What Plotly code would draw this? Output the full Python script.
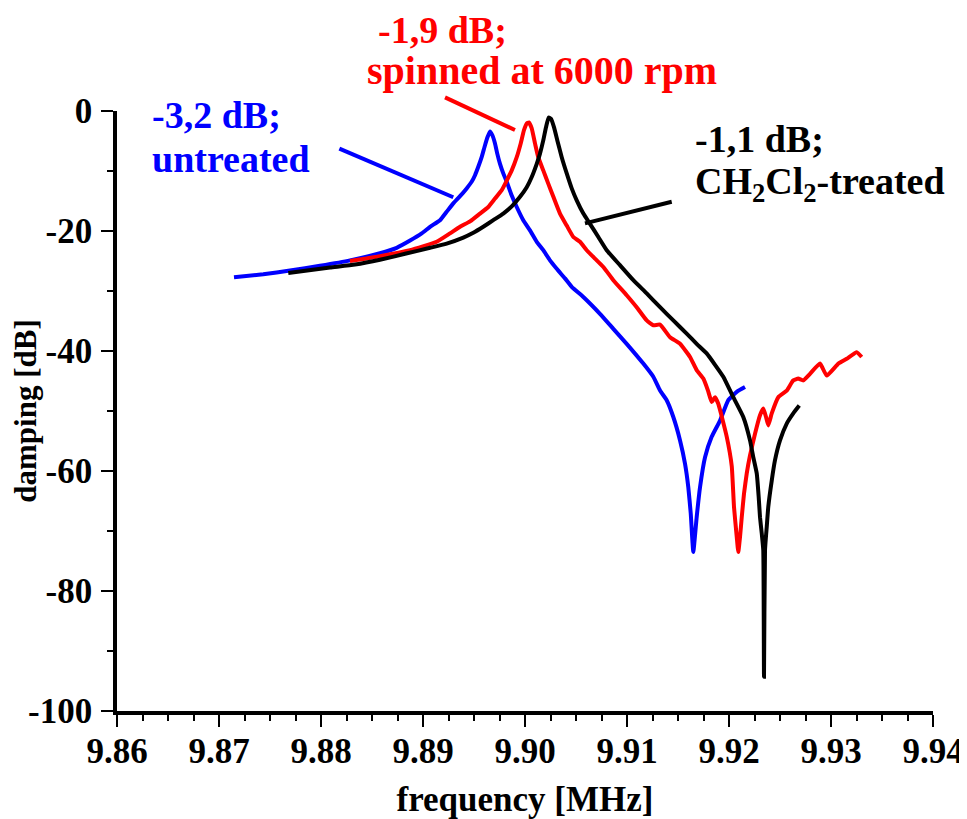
import plotly.graph_objects as go

# ---- data ----
blue_x = [9.87147, 9.87434, 9.87696, 9.87990, 9.88284, 9.88578, 9.88742, 9.88873, 9.88987, 9.89069,
          9.89167, 9.89232, 9.89297, 9.89363, 9.89428, 9.89477, 9.89510, 9.89542, 9.89575, 9.89608,
          9.89634, 9.89657, 9.89679, 9.89706, 9.89728, 9.89755, 9.89787, 9.89821, 9.89870, 9.89919,
          9.89983, 9.90049, 9.90115, 9.90179, 9.90245, 9.90311, 9.90392, 9.90458, 9.90572, 9.90735,
          9.90866, 9.90997, 9.91160, 9.91258, 9.91324, 9.91389, 9.91454, 9.91520, 9.91569, 9.91601,
          9.91625, 9.91650, 9.91683, 9.91716, 9.91765, 9.91830, 9.91912, 9.91993, 9.92076, 9.92157]
blue_y = [-27.7, -27.2, -26.6, -25.8, -24.9, -23.7, -22.8, -21.6, -20.4, -19.3,
          -18.2, -16.8, -15.4, -14.2, -12.9, -11.8, -10.7, -9.3, -7.7, -5.7,
          -4.3, -3.4, -4.0, -5.4, -7.1, -8.8, -10.4, -11.8, -14.1, -16.0,
          -18.2, -19.9, -21.8, -23.2, -24.9, -26.3, -27.9, -29.3, -31.0, -33.8,
          -36.3, -38.8, -42.1, -44.3, -46.6, -48.2, -51.0, -54.9, -58.8, -62.7,
          -67.1, -73.5, -67.7, -62.7, -57.7, -54.3, -51.6, -48.2, -46.8, -46.0]

red_x = [9.88284, 9.88578, 9.88873, 9.89134, 9.89265, 9.89363, 9.89461, 9.89559, 9.89640, 9.89706,
         9.89772, 9.89821, 9.89870, 9.89919, 9.89958, 9.89990, 9.90017, 9.90039, 9.90066, 9.90098,
         9.90130, 9.90179, 9.90228, 9.90278, 9.90343, 9.90409, 9.90474, 9.90539, 9.90605, 9.90686,
         9.90768, 9.90866, 9.90997, 9.91095, 9.91193, 9.91258, 9.91324, 9.91422, 9.91520, 9.91618,
         9.91683, 9.91748, 9.91794, 9.91830, 9.91863, 9.91895, 9.91978, 9.92027, 9.92049, 9.92076,
         9.92091, 9.92108, 9.92125, 9.92147, 9.92174, 9.92206, 9.92255, 9.92304, 9.92336, 9.92363,
         9.92385, 9.92419, 9.92483, 9.92566, 9.92630, 9.92679, 9.92728, 9.92794, 9.92892, 9.92958,
         9.93072, 9.93154, 9.93252, 9.93301]
red_y = [-25.0, -24.2, -23.2, -21.8, -20.4, -19.3, -18.4, -17.1, -16.0, -14.6,
         -13.2, -11.6, -9.9, -7.7, -5.4, -3.2, -2.1, -1.9, -2.9, -5.4,
         -7.7, -9.9, -12.1, -14.3, -17.1, -19.1, -21.0, -21.8, -23.2, -24.6,
         -26.0, -28.2, -30.7, -32.7, -34.9, -35.7, -35.6, -37.7, -38.8, -41.0,
         -43.2, -44.6, -46.6, -48.5, -47.7, -48.8, -54.3, -59.2, -66.0, -71.0,
         -73.5, -71.0, -67.7, -63.8, -60.4, -57.4, -53.8, -50.7, -49.6, -51.0,
         -52.4, -50.4, -47.7, -46.6, -44.9, -44.6, -44.9, -43.8, -42.1, -44.1,
         -42.1, -41.3, -40.2, -41.0]

black_x = [9.87679, 9.88088, 9.88333, 9.88578, 9.88824, 9.89069, 9.89232, 9.89395, 9.89493, 9.89591,
           9.89689, 9.89787, 9.89870, 9.89951, 9.90017, 9.90066, 9.90115, 9.90147, 9.90179, 9.90206,
           9.90232, 9.90255, 9.90284, 9.90317, 9.90360, 9.90409, 9.90458, 9.90507, 9.90572, 9.90637,
           9.90719, 9.90801, 9.90931, 9.91062, 9.91193, 9.91324, 9.91454, 9.91585, 9.91683, 9.91781,
           9.91863, 9.91944, 9.92042, 9.92140, 9.92206, 9.92238, 9.92272, 9.92291, 9.92304, 9.92321,
           9.92336, 9.92343, 9.92353, 9.92370, 9.92385, 9.92419, 9.92451, 9.92500, 9.92566, 9.92630,
           9.92689]
black_y = [-27.0, -26.1, -25.6, -24.8, -23.8, -22.8, -22.1, -21.1, -20.3, -19.3,
           -18.2, -17.1, -15.9, -14.3, -12.7, -11.0, -8.8, -7.1, -4.9, -2.7,
           -1.1, -1.3, -2.7, -4.9, -7.7, -10.4, -12.9, -14.9, -17.1, -18.8,
           -21.0, -23.2, -25.7, -28.2, -30.4, -32.7, -34.9, -37.1, -38.8, -40.4,
           -42.3, -44.3, -47.7, -51.0, -54.9, -57.7, -60.4, -64.3, -67.7, -70.4,
           -73.2, -94.3, -73.2, -69.3, -66.0, -61.6, -58.2, -54.9, -52.1, -50.4,
           -49.1]

x_tick_vals = [9.86, 9.87, 9.88, 9.89, 9.90, 9.91, 9.92, 9.93, 9.94]
x_tick_text = ["9.86", "9.87", "9.88", "9.89", "9.90", "9.91", "9.92", "9.93", "9.94"]
y_tick_vals = [-100, -80, -60, -40, -20, 0]
y_tick_text = ["-100", "-80", "-60", "-40", "-20", "0"]

BLUE = "#0000ff"
RED = "#ff0000"
BLACK = "#000000"
FONT = "Liberation Serif"

fig = go.Figure()
for xs, ys, c in [(blue_x, blue_y, BLUE), (red_x, red_y, RED), (black_x, black_y, BLACK)]:
    fig.add_trace(go.Scatter(x=xs, y=ys, mode="lines",
                             line=dict(color=c, width=4, shape="spline", smoothing=0.4),
                             showlegend=False, hoverinfo="skip"))

# the page body has an 8px margin, so the figure is sized to fit inside the window
fig.update_layout(
    width=959, height=811,
    margin=dict(l=109, r=34, t=103, b=108, autoexpand=False),
    paper_bgcolor="white", plot_bgcolor="white",
    font=dict(family=FONT, color="black", size=35, weight="bold"),
    showlegend=False,
)
fig.update_xaxes(
    range=[9.86, 9.94], tickvals=x_tick_vals, ticktext=x_tick_text,
    showline=True, linecolor="black", linewidth=3.5, mirror=False,
    ticks="outside", ticklen=12, tickwidth=2, tickcolor="black",
    ticklabelstandoff=-6, ticklabeloverflow="allow",
    minor=dict(dtick=0.0025, ticks="outside", ticklen=6, tickwidth=2, tickcolor="black"),
    showgrid=False, zeroline=False, automargin=False,
    tickfont=dict(family=FONT, size=35, weight="bold"),
    title=dict(text="frequency [MHz]", font=dict(family=FONT, size=35, weight="bold"), standoff=18),
)
fig.update_yaxes(
    range=[-100, 0], tickvals=y_tick_vals, ticktext=y_tick_text,
    showline=True, linecolor="black", linewidth=3.5, mirror=False,
    ticks="outside", ticklen=12, tickwidth=2, tickcolor="black",
    ticklabelstandoff=2, ticklabeloverflow="allow",
    minor=dict(dtick=10, ticks="outside", ticklen=6, tickwidth=2, tickcolor="black"),
    showgrid=False, zeroline=False, automargin=False,
    tickfont=dict(family=FONT, size=35, weight="bold"),
    title=dict(text="damping [dB]", font=dict(family=FONT, size=31, weight="bold"), standoff=2),
)

def label(text, xp, yp, color, size=38):
    fig.add_annotation(text=text, xref="paper", yref="paper", x=xp, y=yp,
                       xanchor="left", yanchor="middle", showarrow=False,
                       font=dict(family=FONT, size=size, color=color, weight="bold"))

label("-3,2 dB;", 0.0404, 0.9933, BLUE)
label("untreated", 0.0404, 0.920, BLUE)
label("-1,9 dB;", 0.3174, 1.135, RED)
label("spinned at 6000 rpm", 0.3039, 1.0683, RED, 40)
label("-1,1 dB;", 0.7059, 0.9533, BLACK)
label("CH<sub>2</sub>Cl<sub>2</sub>-treated", 0.7059, 0.8783, BLACK)

# leader lines (paper coordinates)
def leader(x0, y0, x1, y1, color):
    fig.add_shape(type="line", xref="paper", yref="paper", x0=x0, y0=y0, x1=x1, y1=y1,
                  line=dict(color=color, width=4))

leader(0.2725, 0.9372, 0.4121, 0.8562, BLUE)
leader(0.4020, 1.0228, 0.4877, 0.9683, RED)
leader(0.5735, 0.8128, 0.6798, 0.8488, BLACK)

fig.write_html("out.html")
